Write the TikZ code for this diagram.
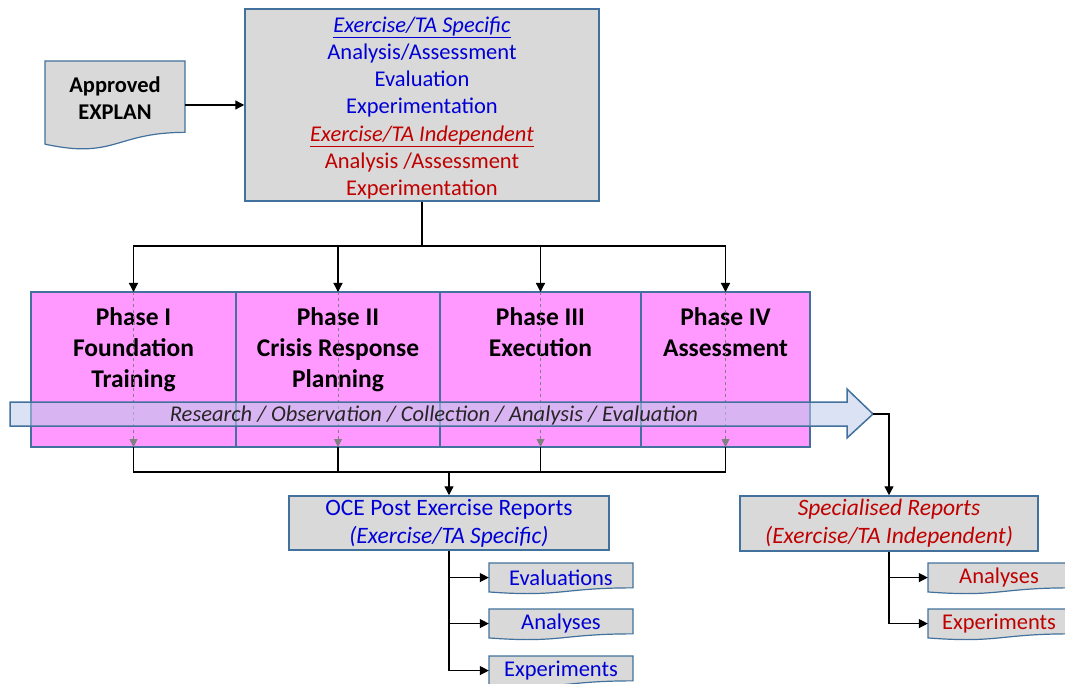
\documentclass[tikz,border=0pt]{standalone}
\usepackage{fontspec}
\setmainfont{Carlito}
\usepackage{tikz}
\usetikzlibrary{positioning, calc, arrows.meta}

\definecolor{edgeblue}{RGB}{65,113,156}
\definecolor{boxgray}{RGB}{217,217,217}
\definecolor{phasepink}{RGB}{255,153,255}
\definecolor{flowblue}{RGB}{187,203,233}
\definecolor{specblue}{RGB}{0,0,214}
\definecolor{indepred}{RGB}{192,0,0}

% documento com borda ondulada: [opcoes], nome, esquerda, topo, largura, altura, texto
\newcommand{\docbox}[7][]{%
  \filldraw[docline] (#3,#4) -- (#3+#5,#4) -- (#3+#5,#4+0.802*#6)
    .. controls (#3+0.5*#5,#4+0.802*#6) and (#3+0.5*#5,#4+1.107*#6) .. (#3,#4+0.934*#6) -- cycle;
  \node[doctext, minimum width=#5pt, #1] (#2) at (#3+0.5*#5,#4+0.47*#6) {#7};
}

\begin{document}
\begin{tikzpicture}[x=1pt, y=-1pt, >={Triangle[width=9pt,length=9pt]},
				box/.style={draw=edgeblue, line width=1.5pt, fill=boxgray, inner sep=0pt, align=center},
				phase/.style={draw=edgeblue, line width=1.5pt, fill=phasepink, minimum height=155pt, inner sep=0pt, outer sep=0pt},
				phasetext/.style={font=\fontsize{25.5}{31}\selectfont\bfseries, align=center, inner sep=0pt},
				docline/.style={draw=edgeblue, line width=1.2pt, fill=boxgray},
				doctext/.style={inner sep=0pt, align=center, font=\fontsize{22.5}{27}\selectfont},
				conn/.style={->, line width=1.3pt},
				line/.style={line width=1.3pt},
				guide/.style={->, >={Triangle[width=8pt,length=8pt]}, draw=gray, dashed, line width=1pt} ]
				\useasboundingbox (0,0) rectangle (1065,684);
				
				\node[box, minimum width=354pt, minimum height=192pt] (plan) at (422,105) {};
				\node[align=center, inner sep=0pt, font=\fontsize{22.5}{27.2}\selectfont] (plantext) at (422,108)
					{\textcolor{specblue}{\underline{\textit{Exercise/TA Specific}}}\\
					 \textcolor{specblue}{Analysis/Assessment}\\
					 \textcolor{specblue}{Evaluation}\\
					 \textcolor{specblue}{Experimentation}\\
					 \textcolor{indepred}{\underline{\textit{Exercise/TA Independent}}}\\
					 \textcolor{indepred}{Analysis /Assessment}\\
					 \textcolor{indepred}{Experimentation}};
				\docbox[font=\fontsize{22.5}{27}\selectfont\bfseries, yshift=5pt]{explan}{45}{61}{140}{89}{Approved\\EXPLAN}
				
				%Fases:
				\node[phase, minimum width=205pt] (phaseI) at (133.5,369.5) {};
				\node[phase, minimum width=204pt, right=0pt of phaseI]   (phaseII)  {};
				\node[phase, minimum width=201pt, right=0pt of phaseII]  (phaseIII) {};
				\node[phase, minimum width=169pt, right=0pt of phaseIII] (phaseIV)  {};
				\node[phasetext, below=15pt of phaseI.north]   (nameI)   {Phase I\\Foundation\\Training};
				\node[phasetext, below=15pt of phaseII.north]  (nameII)  {Phase II\\Crisis Response\\Planning};
				\node[phasetext, below=15pt of phaseIII.north] (nameIII) {Phase III\\Execution};
				\node[phasetext, below=15pt of phaseIV.north]  (nameIV)  {Phase IV\\Assessment};
				\foreach \p in {phaseI, phaseII, phaseIII, phaseIV}
					\draw[guide] (\p.north) -- (\p.south);
				
				%Seta de pesquisa:
				\filldraw[draw=edgeblue, line width=1.5pt, fill=flowblue, fill opacity=0.55]
					(10,402) -- (847,402) -- (847,389) -- (873,414) -- (847,438) -- (847,426) -- (10,426) -- cycle;
				\coordinate (flowtip) at (873,414);
				\node[font=\fontsize{22.5}{27}\selectfont\itshape, text=black!85, inner sep=0pt] (flow) at (434,416)
					{Research / Observation / Collection / Analysis / Evaluation};
				
				%Relatorios:
				\node[box, minimum width=320pt, minimum height=54pt, font=\fontsize{23.5}{28}\selectfont, text=specblue] (oce) at (449,523)
					{OCE Post Exercise Reports\\\textit{(Exercise/TA Specific)}};
				\node[box, minimum width=298pt, minimum height=55pt, font=\fontsize{23.5}{28}\selectfont\itshape, text=indepred] (spec) at (889,523.5)
					{Specialised Reports\\(Exercise/TA Independent)};
				\docbox{ocevals}{489}{563}{144}{31}{\color{specblue}Evaluations}
				\docbox{oceanal}{489}{609}{144}{31}{\color{specblue}Analyses}
				\docbox{oceexp}{489}{656}{144}{31}{\color{specblue}Experiments}
				\docbox{specanal}{928}{563}{142}{31}{\color{indepred}Analyses}
				\docbox{specexp}{928}{609}{142}{31}{\color{indepred}Experiments}
				
				%Conexoes:
				\coordinate (split) at (422,246);
				\coordinate (merge) at (449,472);
				\draw[conn] (explan.east |- plan.west) -- (plan.west);
				\draw[line] (plan.south) -- (split);
				\foreach \p in {phaseI, phaseII, phaseIII, phaseIV}{
					\draw[conn] (split) -| (\p.north);
					\draw[line] (\p.south) |- (merge);
				}
				\draw[conn] (merge) -- (oce.north);
				\draw[conn] (flowtip) -| (spec.north);
				\foreach \d in {ocevals, oceanal, oceexp}
					\draw[conn] (oce.south) |- (\d.west);
				\foreach \d in {specanal, specexp}
					\draw[conn] (spec.south) |- (\d.west);
			\end{tikzpicture}
\end{document}
